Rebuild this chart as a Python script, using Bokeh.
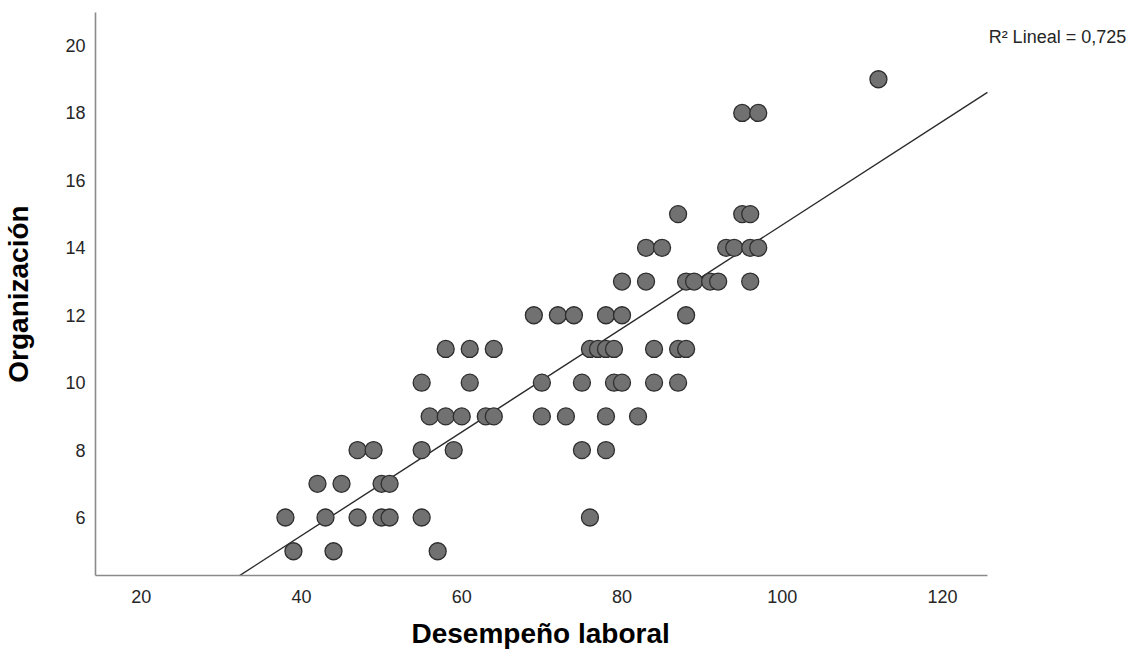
import numpy as np
from bokeh.plotting import figure
from bokeh.models import Range1d, FixedTicker, Label, Title
from bokeh.embed import file_html
from bokeh.resources import INLINE

# Data (Desempeño laboral vs Organización)
desempeno = [
    39, 44, 57,
    38, 43, 47, 50, 51, 55, 76,
    42, 45, 50, 51,
    47, 49, 55, 59, 75, 78,
    56, 58, 60, 63, 64, 70, 73, 78, 82,
    55, 61, 70, 75, 79, 80, 84, 87,
    58, 61, 64, 76, 77, 78, 79, 84, 87, 88,
    69, 72, 74, 78, 80, 88,
    80, 83, 88, 89, 91, 92, 96,
    83, 85, 93, 94, 96, 97,
    87, 95, 96,
    95, 97,
    112,
]
organizacion = (
    [5] * 3 + [6] * 7 + [7] * 4 + [8] * 6 + [9] * 9 + [10] * 8 +
    [11] * 10 + [12] * 6 + [13] * 7 + [14] * 6 + [15] * 3 + [18] * 2 + [19] * 1
)

x_ticks = [20, 40, 60, 80, 100, 120]
y_ticks = [6, 8, 10, 12, 14, 16, 18, 20]
x_title = "Desempeño laboral"
y_title = "Organización"
r2_text = "R² Lineal = 0,725"

X_MIN, X_AXIS_END = 14.3, 125.6      # extent of the drawn x axis
X_VIEW_END = 145.45                  # room on the right for the R² note
Y_MIN, Y_MAX = 4.28, 20.98

p = figure(
    width=1146, height=664,
    output_backend="svg", toolbar_location=None,
    x_range=Range1d(X_MIN, X_VIEW_END), y_range=Range1d(Y_MIN, Y_MAX),
    min_border_left=95, min_border_right=0,
    min_border_top=12, min_border_bottom=89,
)
p.outline_line_color = None
p.xgrid.visible = False
p.ygrid.visible = False
p.background_fill_color = "white"
p.border_fill_color = "white"

for ax, ticks in ((p.xaxis[0], x_ticks), (p.yaxis[0], y_ticks)):
    ax.ticker = FixedTicker(ticks=ticks)
    ax.axis_line_color = "#8a8a8a"
    ax.axis_line_width = 1.6
    ax.major_tick_line_color = None
    ax.minor_tick_line_color = None
    ax.major_tick_out = 0
    ax.major_tick_in = 0
    ax.major_label_text_font = "Liberation Sans"
    ax.major_label_text_font_size = "18px"
    ax.major_label_text_color = "#262626"
    ax.axis_label_text_font = "Liberation Sans"
    ax.axis_label_text_font_size = "28px"
    ax.axis_label_text_font_style = "bold"
    ax.axis_label_text_color = "#000000"

p.xaxis[0].bounds = (X_MIN, X_AXIS_END)
p.yaxis[0].axis_label = y_title
p.xaxis[0].major_label_standoff = 14
p.yaxis[0].major_label_standoff = 10
p.yaxis[0].axis_label_standoff = 28

# x-axis title, centred under the drawn axis (not under the wider view)
p.add_layout(Title(text=x_title, align="left", offset=316, standoff=20,
                   text_font="Liberation Sans", text_font_size="28px",
                   text_font_style="bold", text_color="#000000"), "below")

# Linear fit line computed from the data, across the x axis extent
slope, intercept = np.polyfit(desempeno, organizacion, 1)
fx = np.array([X_MIN, X_AXIS_END])
fy = intercept + slope * fx
p.line(fx, fy, line_color="#2b2b2b", line_width=1.4)

p.scatter(desempeno, organizacion, size=17, fill_color="#717171",
          line_color="#2e2e2e", line_width=1.3)

p.add_layout(Label(x=X_AXIS_END + 0.15, y=20.24, text=r2_text,
                   text_font="Liberation Sans", text_font_size="18px",
                   text_color="#262626", text_baseline="alphabetic"))

open("out.html", "w").write(file_html(p, INLINE))
